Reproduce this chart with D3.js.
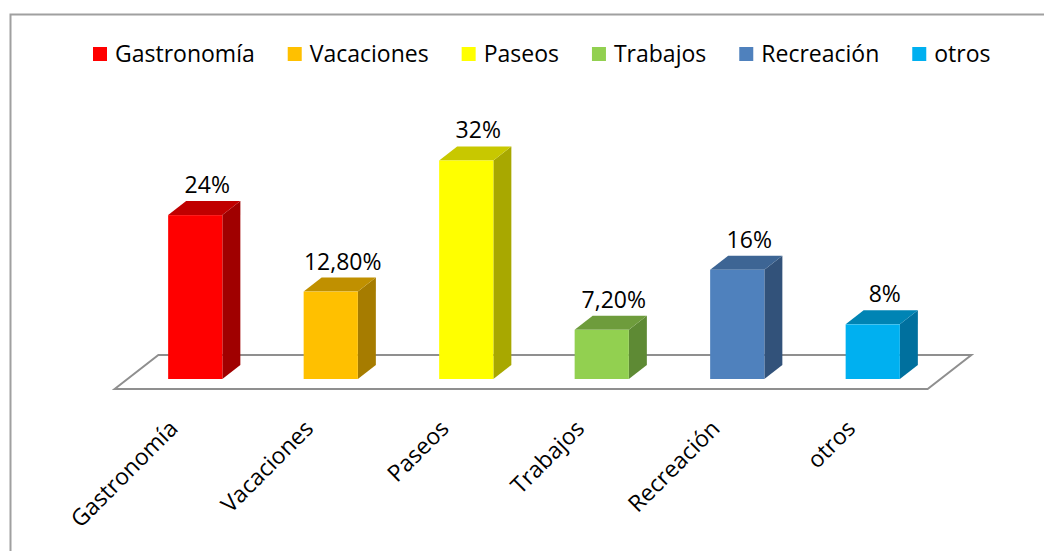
<!DOCTYPE html>
<meta charset="utf-8">
<style>
  body { margin: 0; background: #fff; }
  text { font-family: 'Open Sans', sans-serif; font-size: 23px; fill: #000; }
</style>
<script src="https://d3js.org/d3.v7.min.js"></script>
<div id="my_dataviz"></div>
<script>

// data (percent)
var categories = ["Gastronomía", "Vacaciones", "Paseos", "Trabajos", "Recreación", "otros"];
var values = [24, 12.8, 32, 7.2, 16, 8];
var frontColors = ["#ff0000", "#ffc000", "#ffff00", "#92d050", "#4f81bd", "#00b0f0"];
var topColors   = ["#c00000", "#c09000", "#c8c800", "#6e9c3c", "#3d6594", "#0084b4"];
var sideColors  = ["#a00000", "#a67c00", "#a8a800", "#5e8a34", "#32527a", "#00709e"];

var width = 1044, height = 551;

var svg = d3.select("#my_dataviz")
  .append("svg")
    .attr("width", width)
    .attr("height", height);

// chart border (only top and left are inside the picture)
svg.append("rect")
  .attr("x", 10.5)
  .attr("y", 14.5)
  .attr("width", 1100)
  .attr("height", 600)
  .attr("fill", "none")
  .attr("stroke", "#a0a0a0")
  .attr("stroke-width", 2);

var x = d3.scaleBand()
  .domain(categories)
  .range([127.5, 940.5])
  .paddingInner(0.6)
  .paddingOuter(0.3);

var y = d3.scaleLinear()
  .domain([0, 35])
  .range([379, 140]);

// depth of the 3d effect
var ddx = 18, ddy = 14;
var k = ddx / ddy;

// floor
var x0 = x.range()[0], x1 = x.range()[1], y0 = y(0);
var fFront = 10, fBack = ddy + 10;
svg.append("path")
  .attr("d", "M" + (x0 - fFront * k) + "," + (y0 + fFront) +
             "L" + (x0 + fBack * k) + "," + (y0 - fBack) +
             "L" + (x1 + fBack * k) + "," + (y0 - fBack) +
             "L" + (x1 - fFront * k) + "," + (y0 + fFront) + "Z")
  .attr("fill", "#fff")
  .attr("stroke", "#8f8f8f")
  .attr("stroke-width", 2);

var data = categories.map(function(c, i) {
  return {cat: c, v: values[i], front: frontColors[i], top: topColors[i], side: sideColors[i]};
});

var bars = svg.append("g").selectAll("g")
  .data(data)
  .enter().append("g");

// side face
bars.append("path")
  .attr("d", function(d) {
    var r = x(d.cat) + x.bandwidth(), t = y(d.v);
    return "M" + r + "," + t + "L" + (r + ddx) + "," + (t - ddy) +
           "L" + (r + ddx) + "," + (y0 - ddy) + "L" + r + "," + y0 + "Z";
  })
  .attr("fill", function(d) { return d.side; });

// top face
bars.append("path")
  .attr("d", function(d) {
    var l = x(d.cat), r = l + x.bandwidth(), t = y(d.v);
    return "M" + l + "," + t + "L" + (l + ddx) + "," + (t - ddy) +
           "L" + (r + ddx) + "," + (t - ddy) + "L" + r + "," + t + "Z";
  })
  .attr("fill", function(d) { return d.top; });

// front face
bars.append("rect")
  .attr("x", function(d) { return x(d.cat); })
  .attr("y", function(d) { return y(d.v); })
  .attr("width", x.bandwidth())
  .attr("height", function(d) { return y0 - y(d.v); })
  .attr("fill", function(d) { return d.front; });

// value labels
function fmt(v) {
  return Number.isInteger(v) ? v + "%" : v.toFixed(2).replace(".", ",") + "%";
}
bars.append("text")
  .attr("x", function(d) { return x(d.cat) + x.bandwidth() / 2 + 12; })
  .attr("y", function(d) { return y(d.v) - ddy - 8; })
  .attr("text-anchor", "middle")
  .text(function(d) { return fmt(d.v); });

// category labels
svg.append("g").selectAll("text")
  .data(categories)
  .enter().append("text")
    .attr("transform", function(d) {
      return "translate(" + (x(d) + x.bandwidth() / 2 - 16) + ",430)rotate(-45)";
    })
    .attr("text-anchor", "end")
    .text(function(d) { return d; });

// legend
var legend = svg.append("g");
var lx = 93;
data.forEach(function(d) {
  legend.append("rect")
    .attr("x", lx).attr("y", 47)
    .attr("width", 14).attr("height", 14)
    .attr("fill", d.front);
  var t = legend.append("text")
    .attr("x", lx + 22)
    .attr("y", 62)
    .text(d.cat);
  lx += 22 + t.node().getComputedTextLength() + 33;
});

</script>
